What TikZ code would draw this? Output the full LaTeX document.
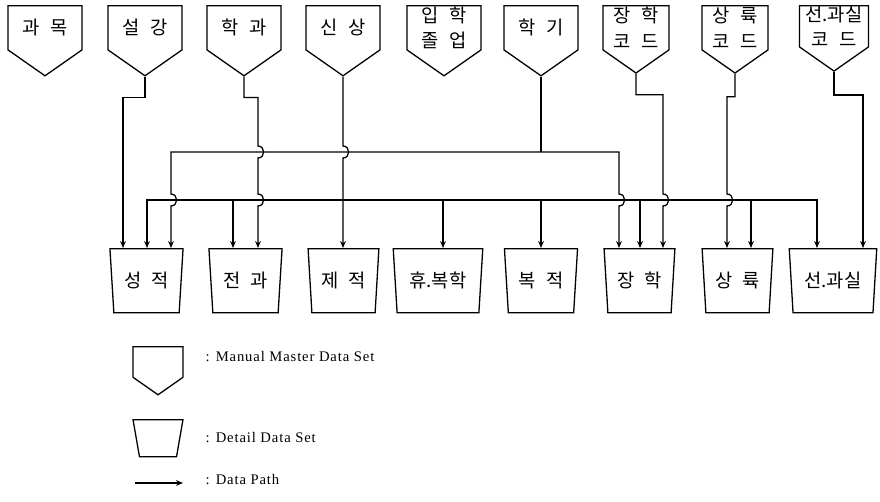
\documentclass[tikz,border=0pt]{standalone}
\usepackage{fontspec}
\setmainfont{Liberation Serif}
\newfontfamily\kr{Noto Sans CJK KR}[WordSpace=2.5]
\newfontfamily\legendfont{Liberation Serif}[LetterSpace=6]
\usetikzlibrary{shapes.symbols,shapes.geometric,arrows.meta}

\tikzset{
  master/.style={draw, shape=signal, signal to=south, signal pointer angle=110,
    minimum width=2.22cm, minimum height=1.8cm, inner sep=0pt, align=center,
    anchor=north, font=\kr\fontsize{16}{22}\selectfont},
  detail/.style={draw, trapezium, shape border rotate=180, trapezium angle=81,
    trapezium stretches=true, minimum width=2.2cm, minimum height=1.92cm,
    inner sep=0pt, anchor=north, font=\kr\fontsize{16}{22}\selectfont},
  legend/.style={anchor=west, inner sep=0pt, font=\legendfont\fontsize{12.5}{14}\selectfont},
  hop/.style={out=0, in=0, looseness=1.6},
}

\begin{document}
\begin{tikzpicture}[x=0.03cm, y=-0.03cm, line width=1.1pt, >={Stealth[length=6pt,width=5pt]}]
  \useasboundingbox (0,0) rectangle (880,501);
  % master data sets
  \node[master] (gwamok) at (45,5) {과 목};
  \node[master] (seolgang) at (145,5) {설 강};
  \node[master] (hakgwa) at (244,5) {학 과};
  \node[master] (sinsang) at (343,5) {신 상};
  \node[master] (ipjol) at (444,5) {입 학\\졸 업};
  \node[master] (hakgi) at (541,5) {학 기};
  \node[master, minimum width=1.98cm] (janghakcode) at (636,5) {장 학\\코 드};
  \node[master, minimum width=1.98cm] (sangryukcode) at (735,5) {상 륙\\코 드};
  \node[master, minimum width=2.07cm] (seongwacode) at (834,5) {선.과실\\코 드};
  % detail data sets
  \node[detail] (seongjeok) at (146.5,248) {성 적};
  \node[detail] (jeongwa) at (245.5,248) {전 과};
  \node[detail, minimum width=2.13cm] (jejeok) at (343.5,248) {제 적};
  \node[detail, minimum width=2.7cm] (hyubok) at (438,248) {휴.복학};
  \node[detail] (bokjeok) at (541,248) {복 적};
  \node[detail, minimum width=2.13cm] (janghak) at (639.5,248) {장 학};
  \node[detail, minimum width=2.13cm] (sangryuk) at (737.5,248) {상 륙};
  \node[detail, minimum width=2.64cm] (seongwa) at (833,248) {선.과실};

  % paths from the masters
  \draw[->] (seolgang.south) -- ++(0,21) -| (seongjeok.north -| 123,0);
  \draw[->] (hakgwa.south) -- ++(0,21) -| (258,146) to[hop] (258,158)
    -- (258,194) to[hop] (258,206) -- (jeongwa.north -| 258,0);
  \draw[->] (sinsang.south) -- (343,146) to[hop] (343,158) -- (jejeok.north -| 343,0);
  \draw[->] (janghakcode.south) -- ++(0,21) -| (663,194) to[hop] (663,206)
    -- (janghak.north -| 663,0);
  \draw[->] (sangryukcode.south) -- ++(0,23) -| (727,194) to[hop] (727,206)
    -- (sangryuk.north -| 727,0);
  \draw[->] (seongwacode.south) -- ++(0,23) -| (seongwa.north -| 863,0);

  % upper line
  \coordinate (upper) at (hakgi.south |- 0,152);
  \draw (hakgi.south) -- (upper);
  \draw[->] (upper) -| (171,194) to[hop] (171,206) -- (seongjeok.north -| 171,0);
  \draw[->] (upper) -| (619,194) to[hop] (619,206) -- (janghak.north -| 619,0);

  % lower line
  \coordinate (lowL) at (147,200);
  \coordinate (lowR) at (817,200);
  \draw[<->] (seongjeok.north -| lowL) -- (lowL) -- (lowR) -- (seongwa.north -| lowR);
  \foreach \n/\x in {jeongwa/233, hyubok/443, bokjeok/541, janghak/640, sangryuk/751}
    \draw[->] (\x,200) -- (\n.north -| \x,0);

  % legend
  \node[master, minimum width=1.5cm, minimum height=1.1cm] (keymaster) at (158,346) {\phantom{가}};
  \node[detail, minimum width=1.5cm, minimum height=1.11cm, trapezium angle=80] (keydetail) at (158,419) {\phantom{가}};
  \coordinate (keyA) at (135,483);
  \coordinate (keyB) at (183,483);
  \draw[->] (keyA) -- (keyB);
  \node[legend] (txtmaster) at (205,357) {: Manual Master Data Set};
  \node[legend] (txtdetail) at (205,438) {: Detail Data Set};
  \node[legend] (txtpath) at (205,480) {: Data Path};
\end{tikzpicture}
\end{document}
